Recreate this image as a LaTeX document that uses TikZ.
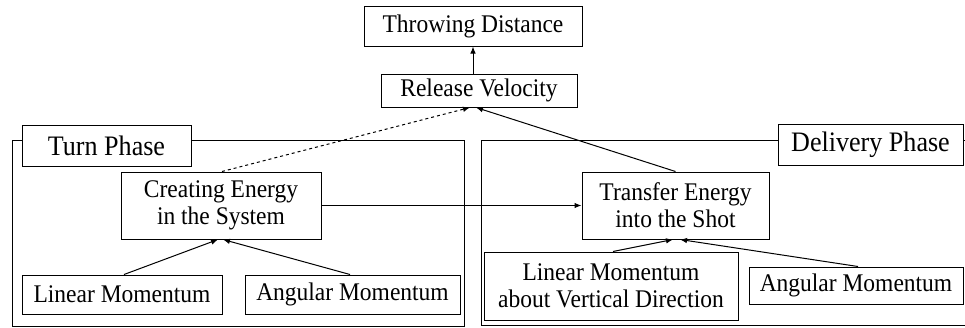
\documentclass[tikz,border=0pt]{standalone}
\usepackage{fontspec}
\setmainfont{Liberation Serif}[FakeStretch=0.925]
\usetikzlibrary{arrows.meta,calc}
\begin{document}
\begin{tikzpicture}[x=1pt,y=-1pt,
  box/.style={draw=black,line width=1pt,fill=white,inner sep=0pt,align=center,
    font=\fontsize{25.4}{27}\selectfont},
  phasebox/.style={box,font=\fontsize{28.2}{30}\selectfont},
  frame/.style={draw=black,line width=1pt},
  arr/.style={line width=1pt,-{Latex[length=7pt,width=5.5pt]}}]
\useasboundingbox (0,0) rectangle (965,327);
\begin{scope}
\clip (0,0) rectangle (965,327);
\draw[frame] (12,140) rectangle (464,326);
\draw[frame] (481,140) rectangle (975,325.5);
\node[phasebox,minimum width=169pt,minimum height=41pt] (turn) at (106.5,145.5) {Turn Phase};
\node[phasebox,minimum width=185pt,minimum height=41pt] (deliv) at (870.5,144.5) {Delivery Phase};
\node[box,minimum width=218pt,minimum height=40pt] (td) at (473,26) {Throwing Distance};
\node[box,minimum width=196pt,minimum height=33pt] (rv) at (479,90.5) {Release Velocity};
\node[box,minimum width=200pt,minimum height=67pt] (ce) at (221,205.5) {Creating Energy\\in the System};
\node[box,minimum width=187pt,minimum height=67pt] (te) at (675.5,205.5) {Transfer Energy\\into the Shot};
\node[box,minimum width=200pt,minimum height=39pt] (lm) at (122,294.5) {Linear Momentum};
\node[box,minimum width=215pt,minimum height=39pt] (am) at (352.5,294.5) {Angular Momentum};
\node[box,minimum width=254pt,minimum height=68pt] (lmv) at (611,286) {Linear Momentum\\about Vertical Direction};
\node[box,minimum width=214pt,minimum height=37pt] (am2) at (856,285.5) {Angular Momentum};
\draw[arr] (rv.north -| td.south) -- (td.south);
\draw[arr,dashed] ($(ce.north)+(1,0)$) -- ($(rv.south)+(-9,0)$);
\draw[arr] (te.north) -- ($(rv.south)+(-3,0)$);
\draw[arr] (ce.east) -- (te.west);
\draw[arr] ($(lm.north)+(2,0)$) -- ($(ce.south)+(-3,0)$);
\draw[arr] ($(am.north)+(-2.5,0)$) -- ($(ce.south)+(2,0)$);
\draw[arr] ($(lmv.north)+(2,0)$) -- ($(te.south)+(-2.5,0)$);
\draw[arr] ($(am2.north)+(2,0)$) -- ($(te.south)+(4.5,0)$);
\end{scope}
\end{tikzpicture}
\end{document}
